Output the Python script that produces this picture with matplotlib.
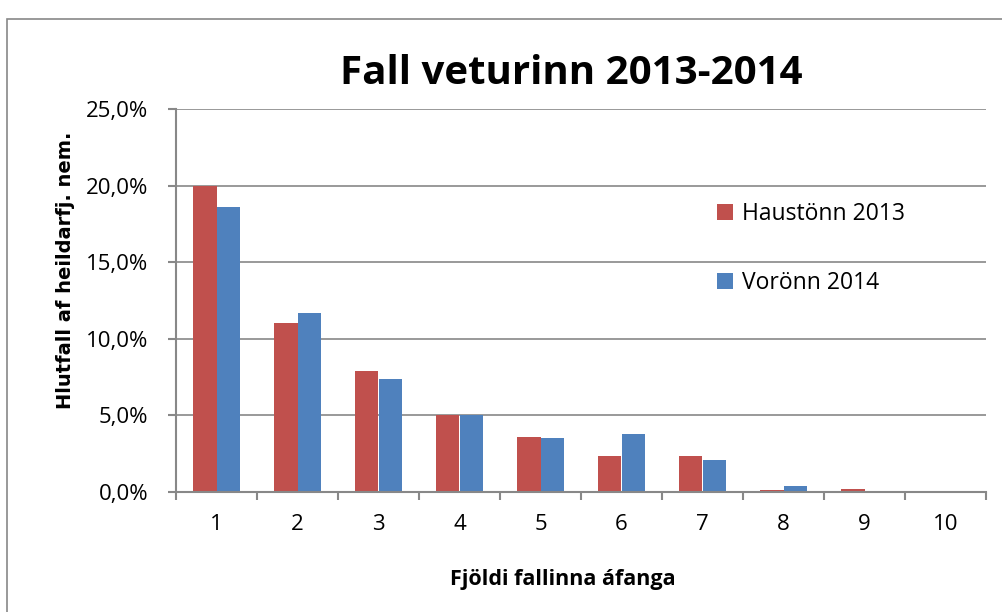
import matplotlib.pyplot as plt
import numpy as np
from matplotlib.patches import Rectangle

# Data (percent of students).
categories = ['1', '2', '3', '4', '5', '6', '7', '8', '9', '10']
haust_2013 = [20.0, 11.0, 7.9, 5.0, 3.6, 2.35, 2.35, 0.13, 0.2, 0.0]
vor_2014 = [18.6, 11.7, 7.4, 5.05, 3.55, 3.8, 2.1, 0.4, 0.0, 0.0]
y_ticks = [0, 5, 10, 15, 20, 25]

red = '#C0504D'
blue = '#4F81BD'
grid_col = '#888888'

plt.rcParams['font.family'] = ['Open Sans', 'DejaVu Sans']

fig = plt.figure(figsize=(10.02, 6.12), dpi=100)
ax = fig.add_axes([176 / 1002, 1 - 492 / 612, (986 - 176) / 1002, (492 - 109) / 612])

# Outer chart frame.
fig.patches.append(Rectangle((7 / 1002, -0.01), 1.1, 1 - 19 / 612 + 0.01, transform=fig.transFigure,
                             fill=False, edgecolor='#888888', linewidth=1.2))

x = np.arange(len(categories))
w = 0.284
ax.bar(x - w / 2, haust_2013, w, color=red, label='Haustönn 2013', zorder=3)
ax.bar(x + w / 2, vor_2014, w, color=blue, label='Vorönn 2014', zorder=3)

ax.set_xlim(-0.5, len(categories) - 0.5)
ax.set_ylim(0, 25)
ax.set_yticks(y_ticks)
ax.set_yticklabels(['{:.1f}%'.format(v).replace('.', ',') for v in y_ticks], fontsize=16)
ax.set_xticks(x)
ax.set_xticklabels(categories, fontsize=16)
ax.tick_params(axis='x', length=0, pad=16)
ax.set_xticks(np.arange(-0.5, len(categories)), minor=True)
ax.tick_params(axis='x', which='minor', length=6, color=grid_col, width=1.5)
ax.tick_params(axis='y', length=6, color=grid_col, width=1.5, pad=14)

ax.yaxis.grid(True, color=grid_col, linewidth=1.2, zorder=0)
for side in ['top', 'right']:
    ax.spines[side].set_visible(False)
ax.spines['left'].set_color(grid_col)
ax.spines['bottom'].set_color(grid_col)
ax.spines['left'].set_linewidth(1.5)
ax.spines['bottom'].set_linewidth(1.5)
ax.spines['bottom'].set_zorder(4)

ax.set_title('Fall veturinn 2013-2014', fontsize=29, fontweight='bold', pad=18, x=0.488)
ax.set_xlabel('Fjöldi fallinna áfanga', fontsize=15.5, fontweight='bold')
ax.xaxis.set_label_coords(0.478, -0.2)
ax.set_ylabel('Hlutfall af heildarfj. nem.', fontsize=14, fontweight='bold', family='DejaVu Sans')
ax.yaxis.set_label_coords(-0.125, 0.58)

ax.legend(loc='upper left', bbox_to_anchor=(0.648, 0.8), fontsize=16.5, frameon=False,
          handlelength=0.7, handleheight=0.7, handletextpad=0.4, labelspacing=2.0, borderpad=0.2)

fig.savefig('out.png', dpi=100)
